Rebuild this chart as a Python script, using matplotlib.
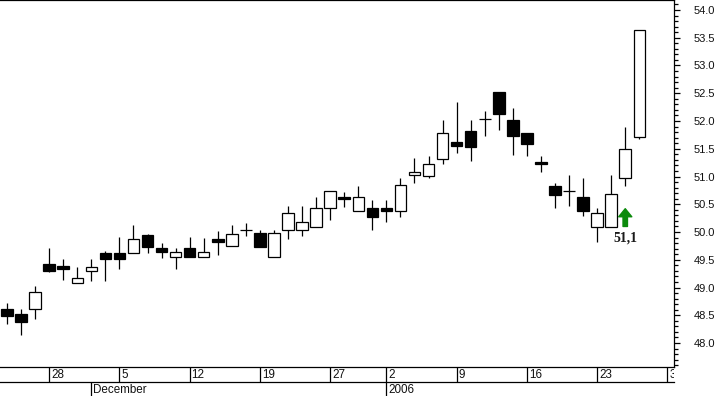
import numpy as np
import matplotlib
matplotlib.use("Agg")
import matplotlib.pyplot as plt
from matplotlib.ticker import MultipleLocator, FormatStrFormatter

# ---------------- data ----------------
dates = [
    "2005-11-23", "2005-11-24", "2005-11-25",
    "2005-11-28", "2005-11-29", "2005-11-30", "2005-12-01", "2005-12-02",
    "2005-12-05", "2005-12-06", "2005-12-07", "2005-12-08", "2005-12-09",
    "2005-12-12", "2005-12-13", "2005-12-14", "2005-12-15", "2005-12-16",
    "2005-12-19", "2005-12-20", "2005-12-21", "2005-12-22", "2005-12-23",
    "2005-12-27", "2005-12-28", "2005-12-29", "2005-12-30",
    "2006-01-02", "2006-01-03", "2006-01-04", "2006-01-05", "2006-01-06",
    "2006-01-09", "2006-01-10", "2006-01-11", "2006-01-12", "2006-01-13",
    "2006-01-16", "2006-01-17", "2006-01-18", "2006-01-19", "2006-01-20",
    "2006-01-23", "2006-01-24", "2006-01-25", "2006-01-26",
]
future_days = ["2006-01-27", "2006-01-30"]

opens = [48.61, 48.52, 48.61, 49.42, 49.39, 49.08, 49.30, 49.62, 49.62, 49.62,
         49.95, 49.71, 49.55, 49.71, 49.55, 49.87, 49.75, 50.04, 49.98, 49.55,
         50.04, 50.04, 50.09, 50.43, 50.63, 50.38, 50.43, 50.43, 50.38, 51.03,
         51.01, 51.32, 51.62, 51.82, 52.04, 52.52, 52.02, 51.78, 51.26, 50.83,
         50.74, 50.63, 50.09, 50.09, 50.97, 51.71]
highs = [48.72, 48.61, 49.03, 49.71, 49.51, 49.37, 49.51, 49.66, 49.91, 50.13,
         49.96, 49.80, 49.71, 49.91, 49.89, 50.02, 50.13, 50.16, 50.04, 50.04,
         50.47, 50.47, 50.63, 50.74, 50.72, 50.83, 50.58, 50.58, 50.97, 51.33,
         51.37, 52.02, 52.34, 52.02, 52.18, 52.52, 52.23, 51.78, 51.37, 50.88,
         51.03, 50.97, 50.43, 51.03, 51.89, 53.64]
lows = [48.34, 48.14, 48.43, 49.28, 49.14, 49.08, 49.12, 49.12, 49.33, 49.62,
        49.62, 49.53, 49.33, 49.55, 49.55, 49.59, 49.75, 49.93, 49.73, 49.55,
        49.87, 49.93, 50.09, 50.22, 50.45, 50.38, 50.04, 50.18, 50.27, 50.88,
        50.97, 51.23, 51.42, 51.28, 51.73, 51.84, 51.39, 51.37, 51.08, 50.43,
        50.47, 50.29, 49.82, 50.09, 50.83, 51.68]
closes = [48.49, 48.38, 48.92, 49.30, 49.33, 49.17, 49.37, 49.51, 49.51, 49.87,
          49.73, 49.64, 49.64, 49.55, 49.64, 49.82, 49.96, 50.04, 49.73, 49.98,
          50.34, 50.18, 50.43, 50.74, 50.59, 50.63, 50.27, 50.38, 50.85, 51.08,
          51.23, 51.78, 51.55, 51.53, 52.04, 52.13, 51.73, 51.59, 51.23, 50.67,
          50.74, 50.38, 50.34, 50.68, 51.50, 53.64]

week_tick_dates = ["2005-11-28", "2005-12-05", "2005-12-12", "2005-12-19",
                   "2005-12-27", "2006-01-02", "2006-01-09", "2006-01-16",
                   "2006-01-23", "2006-01-30"]
week_tick_labels = ["28", "5", "12", "19", "27", "2", "9", "16", "23", "30"]
month_tick_dates = ["2005-12-01", "2006-01-02"]
month_tick_labels = ["December", "2006"]

signal_date = "2006-01-25"
signal_label = "51,1"

# ---------------- figure ----------------
W, H = 722, 396
fig = plt.figure(figsize=(W / 100, H / 100), dpi=100)
fig.patch.set_facecolor("white")

px = 0.72  # one pixel in points
lw = 0.9
axis_days = dates + future_days
slot = {d: i for i, d in enumerate(axis_days)}
xlim = (-0.5, 47.47)

right_px = 674
ax = fig.add_axes([0, (H - 367) / H, right_px / W, 367 / H])
ax.set_xlim(*xlim)
ax.set_ylim(47.568, 54.18)

o = np.array(opens); h = np.array(highs); l = np.array(lows); c = np.array(closes)
x = np.array([slot[d] for d in dates])
ax.vlines(x, l, h, color="black", linewidth=lw, zorder=2)
up = c >= o
ax.bar(x, np.abs(c - o), bottom=np.minimum(o, c), width=0.82,
       color=np.where(up, "white", "black"), edgecolor="black",
       linewidth=lw, zorder=3)

# signal arrow + label
sx = slot[signal_date]
ax.annotate("", xy=(sx, 50.42), xytext=(sx, 50.10),
            arrowprops=dict(arrowstyle="simple,head_length=5.8,head_width=9.4,tail_width=3.2",
                            mutation_scale=1, color="#0b8a0b", shrinkA=0, shrinkB=0),
            zorder=4)
ax.text(sx, 49.89, signal_label, ha="center", va="center",
        family="Liberation Serif", fontweight="bold", fontsize=10, color="#1a1a1a")

# y axis on the right
ax.yaxis.tick_right()
ax.yaxis.set_major_locator(MultipleLocator(0.5))
ax.yaxis.set_minor_locator(MultipleLocator(0.1))
ax.yaxis.set_major_formatter(FormatStrFormatter("%.1f"))
ax.tick_params(axis="y", which="major", direction="out", length=6 * px, width=lw,
               pad=14 * px, labelsize=8, labelcolor="#111111")
ax.tick_params(axis="y", which="minor", direction="out", length=3.5 * px, width=lw)
for lab in ax.get_yticklabels():
    lab.set_family("Liberation Sans")
ax.set_xticks([])
ax.spines["left"].set_visible(False)
for s in ("top", "right", "bottom"):
    ax.spines[s].set_linewidth(lw)

# date rows
r1 = fig.add_axes([0, (H - 382) / H, right_px / W, 15 / H])
r2 = fig.add_axes([0, 0, right_px / W, 14 / H])
for r in (r1, r2):
    r.set_facecolor("none")
    r.set_xlim(*xlim)
    r.set_ylim(0, 1)
    r.set_xticks([]); r.set_yticks([])
    for s in r.spines.values():
        s.set_visible(False)
r1.spines["bottom"].set_visible(True)
r1.spines["bottom"].set_linewidth(lw)

for d, lab in zip(week_tick_dates, week_tick_labels):
    s = slot[d]
    r1.axvline(s, color="black", linewidth=lw)
    r1.text(s + 0.14, 0.45, lab, ha="left", va="center", fontsize=8.4,
            family="Liberation Sans", color="#111111", clip_on=True)
for d, lab in zip(month_tick_dates, month_tick_labels):
    s = slot[d]
    r2.axvline(s, color="black", linewidth=lw)
    r2.text(s + 0.14, 0.45, lab, ha="left", va="center", fontsize=8.4,
            family="Liberation Sans", color="#111111", clip_on=True)

fig.savefig("out.png", dpi=100)
